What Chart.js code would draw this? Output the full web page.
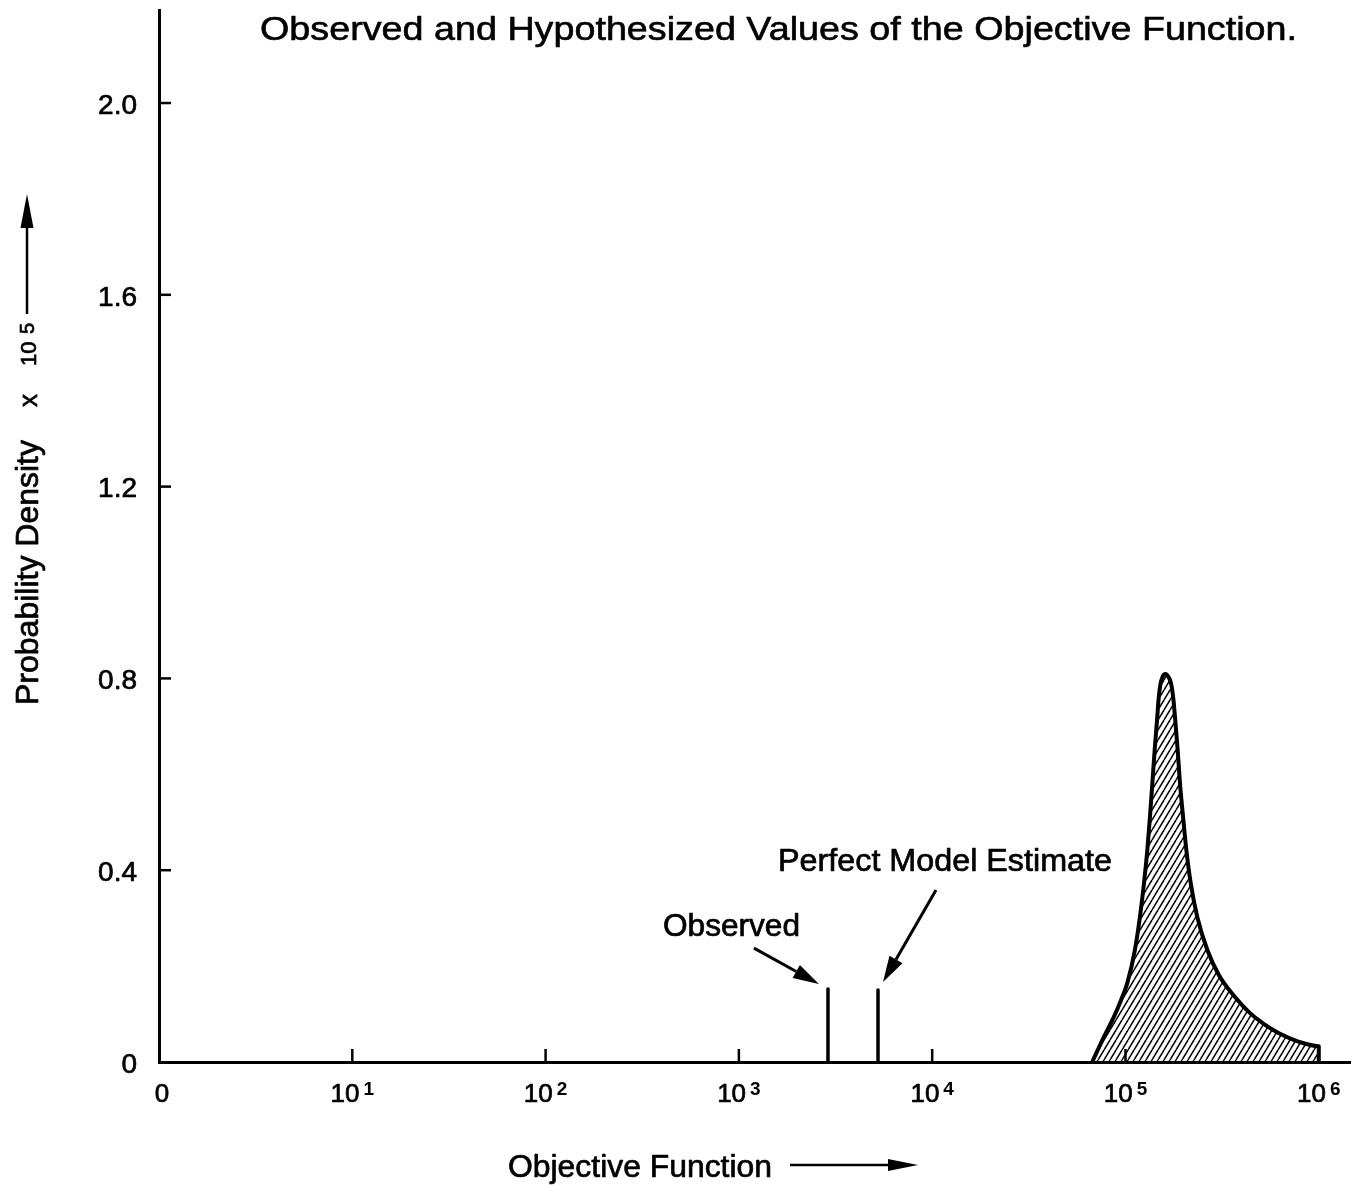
<!DOCTYPE html>
<html><head><meta charset="utf-8">
<script src="https://cdn.jsdelivr.net/npm/chart.js@4/dist/chart.umd.min.js"></script>
<style>html,body{margin:0;padding:0;background:#fff;overflow:hidden}</style>
</head><body>
<canvas id="c" width="1351" height="1185"></canvas>
<script>
// ---- data ----
const titleText = 'Observed and Hypothesized Values of the Objective Function.';
const xAxisTitle = 'Objective Function';
const yAxisTitle = 'Probability Density';
const yAxisMultiplier = ['x', '10', '5'];
const xTickValues = [1, 10, 100, 1000, 10000, 100000, 1000000];
const xTickBases = ['0', '10', '10', '10', '10', '10', '10'];
const xTickExponents = ['', '1', '2', '3', '4', '5', '6'];
const yTickValues = [0, 0.4, 0.8, 1.2, 1.6, 2.0];
const yTickLabels = ['0', '0.4', '0.8', '1.2', '1.6', '2.0'];
const distX = [67300, 76800, 87100, 94800, 102100, 111900, 118800, 124700, 129700, 133900, 137700, 141600, 146100, 148200, 151700, 155400, 161000, 166900, 172000, 177100, 180300, 186200, 191400, 198500, 206500, 217500, 235000, 264900, 304600, 364000, 435300, 520800, 622600, 790600, 1000000, 1000000];
const distY = [0, 0.050, 0.094, 0.129, 0.164, 0.234, 0.303, 0.373, 0.442, 0.512, 0.581, 0.651, 0.720, 0.755, 0.788, 0.803, 0.809, 0.803, 0.790, 0.755, 0.720, 0.651, 0.581, 0.512, 0.442, 0.373, 0.303, 0.234, 0.181, 0.138, 0.104, 0.079, 0.060, 0.042, 0.033, 0];
const observedX = [2890, 2890];
const observedY = [0, 0.152];
const perfectX = [5245, 5245];
const perfectY = [0, 0.150];
const observedLabel = 'Observed';
const perfectLabel = 'Perfect Model Estimate';

const FONT = '"Liberation Sans", Arial, Helvetica, sans-serif';
const THICK = 0.7;

function hatchPattern() {
  const t = document.createElement('canvas');
  t.width = 6; t.height = 10;
  const g = t.getContext('2d');
  g.strokeStyle = '#000'; g.lineWidth = 1.5;
  for (let k = -1; k <= 1; k++) {
    g.beginPath(); g.moveTo(k * 6, 10); g.lineTo(k * 6 + 6, 0); g.stroke();
  }
  return g.createPattern(t, 'repeat');
}

function heavyText(ctx, text, x, y, lw) {
  ctx.fillText(text, x, y);
  ctx.lineWidth = lw; ctx.lineJoin = 'round'; ctx.strokeStyle = '#000';
  ctx.strokeText(text, x, y);
}

function fitText(ctx, text, left, right, cy, size, weight) {
  ctx.save();
  ctx.font = (weight || 'normal') + ' ' + size + 'px ' + FONT;
  ctx.textAlign = 'left'; ctx.textBaseline = 'alphabetic';
  const w = ctx.measureText(text).width;
  const sx = (right - left) / w;
  ctx.translate(left, cy + 0.36 * size);
  ctx.scale(sx, 1);
  ctx.fillStyle = '#000';
  heavyText(ctx, text, 0, 0, THICK / sx);
  ctx.restore();
}

function arrow(ctx, x1, y1, x2, y2, lw, headLen, headHalf) {
  const ang = Math.atan2(y2 - y1, x2 - x1);
  const bx = x2 - Math.cos(ang) * headLen, by = y2 - Math.sin(ang) * headLen;
  ctx.save();
  ctx.strokeStyle = '#000'; ctx.fillStyle = '#000'; ctx.lineWidth = lw; ctx.lineCap = 'butt';
  ctx.beginPath(); ctx.moveTo(x1, y1); ctx.lineTo(bx, by); ctx.stroke();
  ctx.beginPath();
  ctx.moveTo(x2, y2);
  ctx.lineTo(bx + Math.sin(ang) * headHalf, by - Math.cos(ang) * headHalf);
  ctx.lineTo(bx - Math.sin(ang) * headHalf, by + Math.cos(ang) * headHalf);
  ctx.closePath(); ctx.fill();
  ctx.restore();
}

const decor = {
  id: 'decor',
  afterDraw(chart) {
    const ctx = chart.ctx;
    const xs = chart.scales.x, ys = chart.scales.y;
    const ca = chart.chartArea;
    ctx.save();
    ctx.strokeStyle = '#000'; ctx.lineWidth = 2.5;
    // inside tick marks
    xTickValues.forEach((v, i) => {
      if (i === 0 || i === xTickValues.length - 1) return;
      const px = xs.getPixelForValue(v);
      ctx.beginPath(); ctx.moveTo(px, ca.bottom); ctx.lineTo(px, ca.bottom - 13); ctx.stroke();
    });
    yTickValues.forEach((v, i) => {
      if (i === 0) return;
      const py = ys.getPixelForValue(v);
      ctx.beginPath(); ctx.moveTo(ca.left, py); ctx.lineTo(ca.left + 12, py); ctx.stroke();
    });
    ctx.fillStyle = '#000';
    // y tick labels
    ctx.font = '28px ' + FONT; ctx.textAlign = 'right'; ctx.textBaseline = 'middle';
    yTickValues.forEach((v, i) => {
      heavyText(ctx, yTickLabels[i], 137, ys.getPixelForValue(v) + 3, THICK);
    });
    // x tick labels
    xTickValues.forEach((v, i) => {
      const px = xs.getPixelForValue(v);
      ctx.textAlign = 'left'; ctx.textBaseline = 'alphabetic';
      ctx.font = '26px ' + FONT;
      const wb = ctx.measureText(xTickBases[i]).width;
      ctx.font = 'bold 19px ' + FONT;
      const we = xTickExponents[i] ? ctx.measureText(xTickExponents[i]).width + 4 : 0;
      const start = px - (wb + we) / 2 + (i === 0 ? 3 : 0);
      ctx.font = '26px ' + FONT;
      heavyText(ctx, xTickBases[i], start, 1102, THICK);
      if (xTickExponents[i]) {
        ctx.font = 'bold 19px ' + FONT;
        ctx.fillText(xTickExponents[i], start + wb + 4, 1095);
      }
    });
    ctx.restore();

    // title
    fitText(ctx, titleText, 260, 1297, 28, 34);
    // x axis title + arrow
    fitText(ctx, xAxisTitle, 508, 772, 1166, 31);
    arrow(ctx, 790, 1165, 918, 1165, 2.5, 30, 6);
    // y axis title (rotated)
    ctx.save();
    ctx.rotate(-Math.PI / 2);
    ctx.fillStyle = '#000';
    ctx.font = '31px ' + FONT; ctx.textBaseline = 'alphabetic'; ctx.textAlign = 'left';
    const wt = ctx.measureText(yAxisTitle).width;
    ctx.save(); ctx.translate(-705, 38); ctx.scale((705 - 440) / wt, 1); heavyText(ctx, yAxisTitle, 0, 0, THICK); ctx.restore();
    ctx.font = '26px ' + FONT;
    heavyText(ctx, yAxisMultiplier[0], -407, 37, THICK);
    ctx.font = '22px ' + FONT;
    heavyText(ctx, yAxisMultiplier[1], -366, 36, THICK);
    ctx.font = '20px ' + FONT;
    heavyText(ctx, yAxisMultiplier[2], -334, 34, THICK);
    ctx.restore();
    arrow(ctx, 27, 314, 27, 194, 2.5, 34, 6.5);

    // annotations
    const ox = xs.getPixelForValue(observedX[1]), oy = ys.getPixelForValue(observedY[1]);
    const pxp = xs.getPixelForValue(perfectX[1]), pyp = ys.getPixelForValue(perfectY[1]);
    fitText(ctx, observedLabel, 663, 800, 925, 31);
    fitText(ctx, perfectLabel, 778, 1112, 860, 31);
    arrow(ctx, ox - 74, oy - 41, ox - 9, oy - 5, 3, 26, 7.5);
    arrow(ctx, pxp + 58, pyp - 100, pxp + 5, pyp - 8, 3, 26, 7.5);
  }
};

const ctx = document.getElementById('c').getContext('2d');
new Chart(ctx, {
  type: 'line',
  data: {
    datasets: [
      {
        data: distX.map((x, i) => ({ x: x, y: distY[i] })),
        borderColor: '#000', borderWidth: 4, borderJoinStyle: 'round',
        backgroundColor: hatchPattern(), fill: 'origin',
        pointRadius: 0, cubicInterpolationMode: 'monotone'
      },
      {
        data: observedX.map((x, i) => ({ x: x, y: observedY[i] })),
        borderColor: '#000', borderWidth: 3.5, borderCapStyle: 'round', pointRadius: 0, fill: false
      },
      {
        data: perfectX.map((x, i) => ({ x: x, y: perfectY[i] })),
        borderColor: '#000', borderWidth: 3.5, borderCapStyle: 'round', pointRadius: 0, fill: false
      }
    ]
  },
  options: {
    responsive: false, animation: false, devicePixelRatio: 1,
    layout: { padding: { left: 159, right: 0, top: 10, bottom: 123 } },
    plugins: { legend: { display: false }, tooltip: { enabled: false }, title: { display: false } },
    scales: {
      x: {
        type: 'logarithmic', min: 1, max: 1468000, z: 1,
        ticks: { display: false }, grid: { display: false, drawTicks: false },
        border: { display: true, color: '#000', width: 3 },
        afterFit(s) { s.height = 0; },
        afterBuildTicks(s) { s.ticks = xTickValues.map(v => ({ value: v })); }
      },
      y: {
        type: 'linear', min: 0, max: 2.194, z: 1,
        ticks: { display: false }, grid: { display: false, drawTicks: false },
        border: { display: true, color: '#000', width: 3 },
        afterFit(s) { s.width = 0; },
        afterBuildTicks(s) { s.ticks = yTickValues.map(v => ({ value: v })); }
      }
    }
  },
  plugins: [decor]
});
</script>
</body></html>
